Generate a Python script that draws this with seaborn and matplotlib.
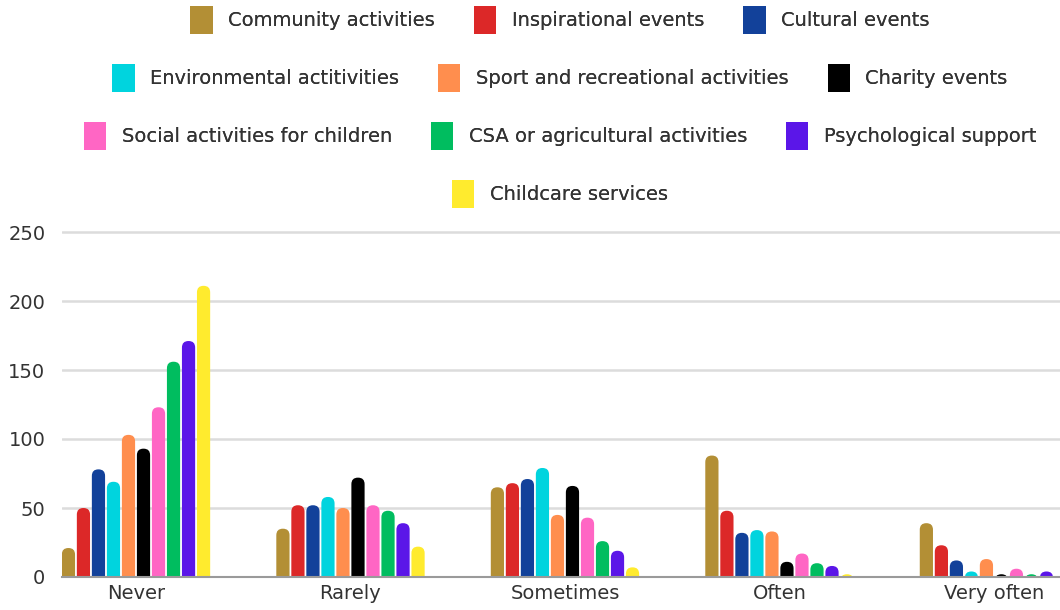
import pandas as pd
import numpy as np
import seaborn as sns
import matplotlib.pyplot as plt
from matplotlib.patches import FancyBboxPatch, Patch

# answer categories on the x axis
frequency = ["Never", "Rarely", "Sometimes", "Often", "Very often"]

# activity types (legend order)
activities = [
    "Community activities", "Inspirational events", "Cultural events",
    "Environmental actitivities", "Sport and recreational activities", "Charity events",
    "Social activities for children", "CSA or agricultural activities", "Psychological support",
    "Childcare services",
]

colors = ["#B38F35", "#DC2828", "#12419A", "#00D4DE", "#FF8E4E", "#000000",
          "#FF66C4", "#00BD5F", "#5B16E8", "#FFEB2E"]

# counts per activity, ordered Never .. Very often
community = [21, 35, 65, 88, 39]
inspirational = [50, 52, 68, 48, 23]
cultural = [78, 52, 71, 32, 12]
environmental = [69, 58, 79, 34, 4]
sport = [103, 50, 45, 33, 13]
charity = [93, 72, 66, 11, 2]
social_children = [123, 52, 43, 17, 6]
csa = [156, 48, 26, 10, 2]
psychological = [171, 39, 19, 8, 4]
childcare = [211, 22, 7, 2, 0]

series = [community, inspirational, cultural, environmental, sport, charity,
          social_children, csa, psychological, childcare]

rows = []
for act, vals in zip(activities, series):
    for f, v in zip(frequency, vals):
        rows.append({"Frequency": f, "Activity": act, "Count": v})
df = pd.DataFrame(rows)

sns.set_style("white")
plt.rcParams["font.family"] = ["DejaVu Sans"]

fig = plt.figure(figsize=(10.6, 6.1), dpi=100)
ax = fig.add_axes([62 / 1060, 33 / 610, 998 / 1060, 255 * 1.38 / 610])

sns.barplot(data=df, x="Frequency", y="Count", hue="Activity", order=frequency,
            hue_order=activities, palette=colors, width=0.7, gap=0.12,
            legend=False, ax=ax, saturation=1)

# swap the plain bars for ones with rounded tops
r_x = 6.5 / 214.5
aspect = (6.5 / 1.38) / r_x
r_y = r_x * aspect
for p in list(ax.patches):
    x, w, h = p.get_x(), p.get_width(), p.get_height()
    fc = p.get_facecolor()
    p.remove()
    ax.add_patch(FancyBboxPatch((x, -2 * r_y), w, h + 2 * r_y,
                                boxstyle=f"round,pad=0,rounding_size={r_x}",
                                mutation_aspect=aspect, facecolor=fc,
                                edgecolor="none", zorder=3))

ax.set_xlim(-0.345, 4.308)
ax.set_ylim(0, 255)
ax.set_yticks([0, 50, 100, 150, 200, 250])
ax.yaxis.grid(True, color="#dcdcdc", linewidth=1.8, zorder=0)
ax.set_axisbelow(True)
for s in ["top", "right", "left"]:
    ax.spines[s].set_visible(False)
ax.spines["bottom"].set_color("#9a9a9a")
ax.spines["bottom"].set_linewidth(1.5)
ax.spines["bottom"].set_zorder(4)
ax.tick_params(axis="both", length=0, labelsize=14, labelcolor="#333333")
ax.tick_params(axis="x", pad=5)
ax.tick_params(axis="y", pad=12)
ax.set_xlabel("")
ax.set_ylabel("")

# legend: one centred row at a time, like the original
legend_rows = [activities[0:3], activities[3:6], activities[6:9], activities[9:10]]
row_y = [20, 78, 136, 194]
for names, yp in zip(legend_rows, row_y):
    handles = [Patch(facecolor=colors[activities.index(n)], edgecolor="none") for n in names]
    leg = fig.legend(handles, names, loc="center", bbox_to_anchor=(560 / 1060, 1 - yp / 610),
                     ncol=len(names), frameon=False, fontsize=14, handlelength=1.15,
                     handleheight=1.8, handletextpad=0.8, columnspacing=2.0,
                     labelcolor="#333333")
    fig.add_artist(leg)

fig.savefig("out.png", dpi=100)
